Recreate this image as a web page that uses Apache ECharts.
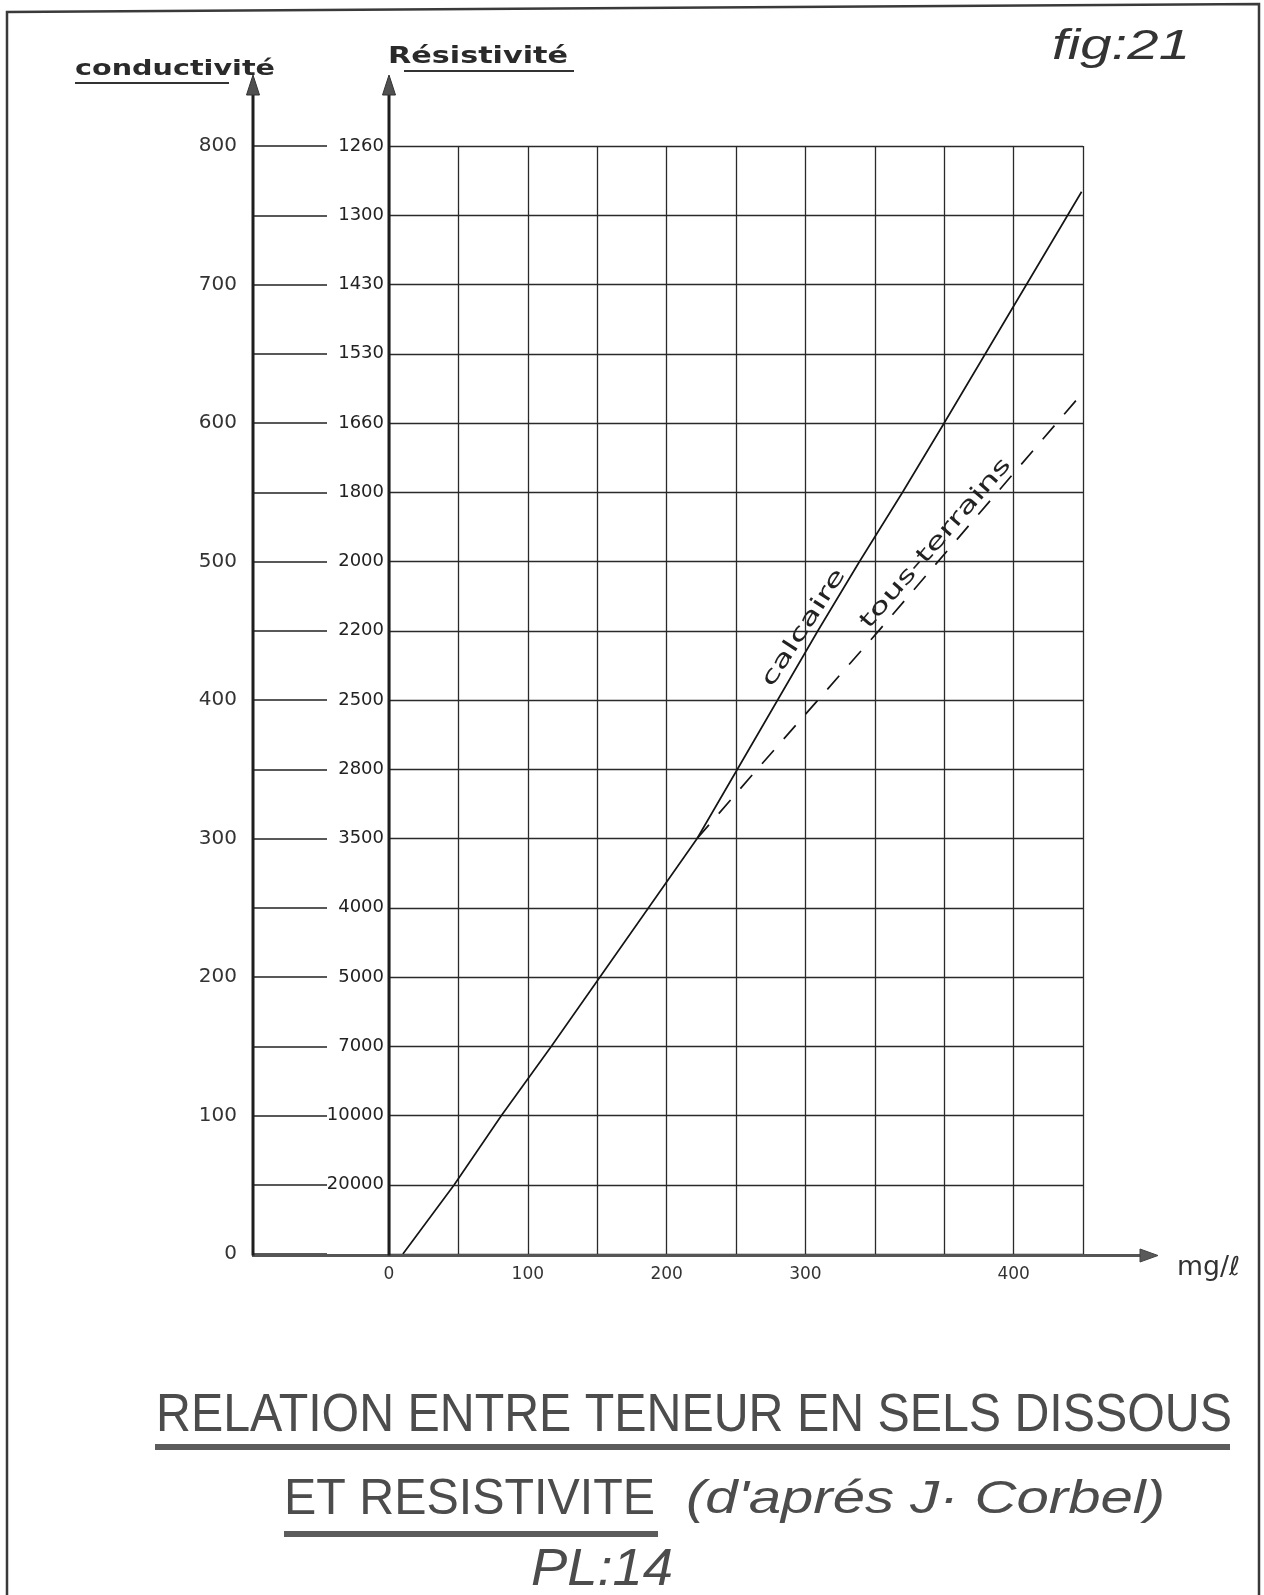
<!DOCTYPE html>
<html>
<head>
<meta charset="utf-8">
<script src="https://cdn.jsdelivr.net/npm/echarts@6/dist/echarts.min.js"></script>
<style>
  html, body { margin: 0; padding: 0; background: #fff; }
  #chart { width: 1264px; height: 1595px; }
</style>
</head>
<body>
<div id="chart"></div>
<script>
// Conductivité scale: a gridline every 50, a label every 100
const conductivityStep = 50;
const conductivityMax = 800;

// Résistivité written against each conductivity gridline, from bottom (0) to top (800)
const resistivityLabels = ['', '20000', '10000', '7000', '5000', '4000', '3500', '2800',
  '2500', '2200', '2000', '1800', '1660', '1530', '1430', '1300', '1260'];

// Teneur en sels dissous (mg/l): one vertical gridline every 50, labels as lettered on the sheet
const mgStep = 50;
const mgMax = 500;
const xTickLabels = ['0', '', '100', '', '200', '', '300', '', '', '400', ''];

// Calcaire (solid line): mg/l against conductivité
const calcaireMg   = [10, 47, 81, 117, 152, 187, 222, 251, 280, 309, 339, 370, 400, 499];
const calcaireCond = [0, 50, 100, 150, 200, 250, 300, 350, 400, 450, 500, 550, 600, 767];

// Tous terrains (dashed line), branching off the calcaire line
const tousTerrainsMg   = [222, 267, 352, 499];
const tousTerrainsCond = [300, 352, 449, 621];

const chart = echarts.init(document.getElementById('chart'), null, { renderer: 'canvas' });

const GRID = { left: 389, top: 146, width: 694, height: 1108 };
const COND_AXIS_OFFSET = 136;
const INK = '#1e1e1e';
const GRAY_INK = '#4c4c4c';

const pairs = (xs, ys) => xs.map((x, i) => [x, ys[i]]);

const option = {
  backgroundColor: '#ffffff',
  animation: false,
  grid: Object.assign({ containLabel: false, outerBoundsMode: 'none' }, GRID),
  xAxis: {
    type: 'value',
    min: 0, max: mgMax, interval: mgStep,
    axisLine: { show: false },
    axisTick: { show: false },
    axisLabel: {
      formatter: v => xTickLabels[Math.round(v / mgStep)] || '',
      margin: 12,
      fontFamily: 'DejaVu Sans', fontSize: 17, color: '#333'
    },
    splitLine: { show: true, lineStyle: { color: '#2a2a2a', width: 1.3 } }
  },
  yAxis: [
    { // résistivité, lettered next to the grid
      type: 'value', position: 'left',
      min: 0, max: conductivityMax, interval: conductivityStep,
      axisLine: { show: false },
      axisTick: { show: false },
      axisLabel: {
        formatter: v => resistivityLabels[Math.round(v / conductivityStep)] || '',
        margin: 5,
        fontFamily: 'DejaVu Sans', fontSize: 18, color: '#222'
      },
      splitLine: { show: true, lineStyle: { color: '#2a2a2a', width: 1.3 } }
    },
    { // conductivité, outer axis with long inner ticks
      type: 'value', position: 'left', offset: COND_AXIS_OFFSET,
      min: 0, max: conductivityMax, interval: conductivityStep,
      axisLine: { show: false },
      axisTick: { show: true, inside: true, length: 74, lineStyle: { color: '#222', width: 1.5 } },
      axisLabel: {
        formatter: v => (v % 100 === 0 ? String(v) : ''),
        margin: 16,
        fontFamily: 'DejaVu Sans', fontSize: 20, color: '#333'
      },
      splitLine: { show: false }
    }
  ],
  series: [
    {
      name: 'calcaire', type: 'line', yAxisIndex: 0,
      data: pairs(calcaireMg, calcaireCond),
      symbol: 'none', silent: true, z: 5,
      lineStyle: { color: '#151515', width: 1.7 }
    },
    {
      name: 'tous-terrains', type: 'line', yAxisIndex: 0,
      data: pairs(tousTerrainsMg, tousTerrainsCond),
      symbol: 'none', silent: true, z: 5,
      lineStyle: { color: '#151515', width: 1.7, type: [18, 15] }
    }
  ]
};

chart.setOption(option);

// ---- decorations: extended axes with arrows, lettering, frame ----
const measureCtx = document.createElement('canvas').getContext('2d');
function stretchFor(text, font, width) {
  measureCtx.font = font;
  return width / measureCtx.measureText(text).width;
}
function lettering(text, font, x, y, width, color, extra) {
  return Object.assign({
    type: 'text', x: x, y: y, z: 20,
    scaleX: stretchFor(text, font, width),
    style: { text: text, font: font, fill: color, align: 'left', verticalAlign: 'middle' }
  }, extra || {});
}

const [x0, y0] = chart.convertToPixel({ gridIndex: 0 }, [0, 0]);
const [x1, y1] = chart.convertToPixel({ gridIndex: 0 }, [mgMax, conductivityMax]);
const condX = x0 - COND_AXIS_OFFSET;
const tipY = y1 - 71;
const baseY = y0 + 1.5;
const tipX = x1 + 75;

function upArrow(x) {
  return [
    { type: 'line', z: 10, shape: { x1: x, y1: baseY, x2: x, y2: tipY + 16 },
      style: { stroke: INK, lineWidth: 3 } },
    { type: 'polygon', z: 11, shape: { points: [[x, tipY], [x - 6.5, tipY + 20], [x + 6.5, tipY + 20]] },
      style: { fill: '#505050', stroke: '#333', lineWidth: 1 } }
  ];
}

// labels along the two curves, anchored in data coordinates
const curveLabels = [
  { text: 'calcaire', at: [299, 452], angle: 57, width: 136 },
  { text: 'tous-terrains', at: [394, 513], angle: 49, width: 218 }
];
const curveFont = '22px "DejaVu Sans"';
const curveTextEls = curveLabels.map(l => {
  const [px, py] = chart.convertToPixel({ gridIndex: 0 }, l.at);
  return {
    type: 'text', x: px, y: py, z: 20,
    rotation: l.angle * Math.PI / 180,
    scaleX: stretchFor(l.text, curveFont, l.width),
    style: { text: l.text, font: curveFont, fill: '#222', align: 'center', verticalAlign: 'middle' }
  };
});

const titleFont1 = '53px "Liberation Sans"';
const titleFont2 = '50px "Liberation Sans"';
const italicFont = 'italic 46px "Liberation Sans"';

const graphics = [
  // page frame
  { type: 'polyline', z: 1, shape: { points: [[7, 1600], [7, 12], [1259, 4], [1259, 1600]] },
    style: { stroke: '#3a3a3a', lineWidth: 2.5, fill: null } },

  // horizontal base line with arrow
  { type: 'line', z: 10, shape: { x1: condX - 1, y1: baseY, x2: tipX - 16, y2: baseY },
    style: { stroke: '#555', lineWidth: 3.2 } },
  { type: 'polygon', z: 11, shape: { points: [[tipX, baseY], [tipX - 18, baseY - 6.5], [tipX - 18, baseY + 6.5]] },
    style: { fill: '#5a5a5a', stroke: '#444', lineWidth: 1 } },

  ...upArrow(condX),
  ...upArrow(x0),

  // axis names
  lettering('conductivité', 'bold 21px "DejaVu Sans"', 75, 70, 200, '#2a2a2a'),
  { type: 'line', z: 10, shape: { x1: 75, y1: 83, x2: 229, y2: 83 }, style: { stroke: '#333', lineWidth: 2 } },
  lettering('Résistivité', 'bold 23px "DejaVu Sans"', 388, 57, 180, '#2a2a2a'),
  { type: 'line', z: 10, shape: { x1: 404, y1: 71, x2: 574, y2: 71 }, style: { stroke: '#333', lineWidth: 2 } },
  lettering('mg/ℓ', '26px "DejaVu Sans"', 1177, 1268, 63, '#333'),

  // figure number
  lettering('fig:21', 'italic 42px "Liberation Sans"', 1052, 47, 138, '#333'),

  // title block
  lettering('RELATION ENTRE TENEUR EN SELS DISSOUS', titleFont1, 156, 1416, 1076, GRAY_INK),
  { type: 'rect', z: 10, shape: { x: 155, y: 1444, width: 1075, height: 6 }, style: { fill: '#5c5c5c' } },
  lettering('ET RESISTIVITE', titleFont2, 284, 1500, 371, GRAY_INK),
  { type: 'rect', z: 10, shape: { x: 284, y: 1531, width: 374, height: 6 }, style: { fill: '#5c5c5c' } },
  lettering("(d'aprés J· Corbel)", italicFont, 686, 1500, 479, GRAY_INK),
  lettering('PL:14', 'italic 52px "Liberation Sans"', 531, 1571, 142, GRAY_INK),

  ...curveTextEls
];

chart.setOption({ graphic: { elements: graphics } });
</script>
</body>
</html>
